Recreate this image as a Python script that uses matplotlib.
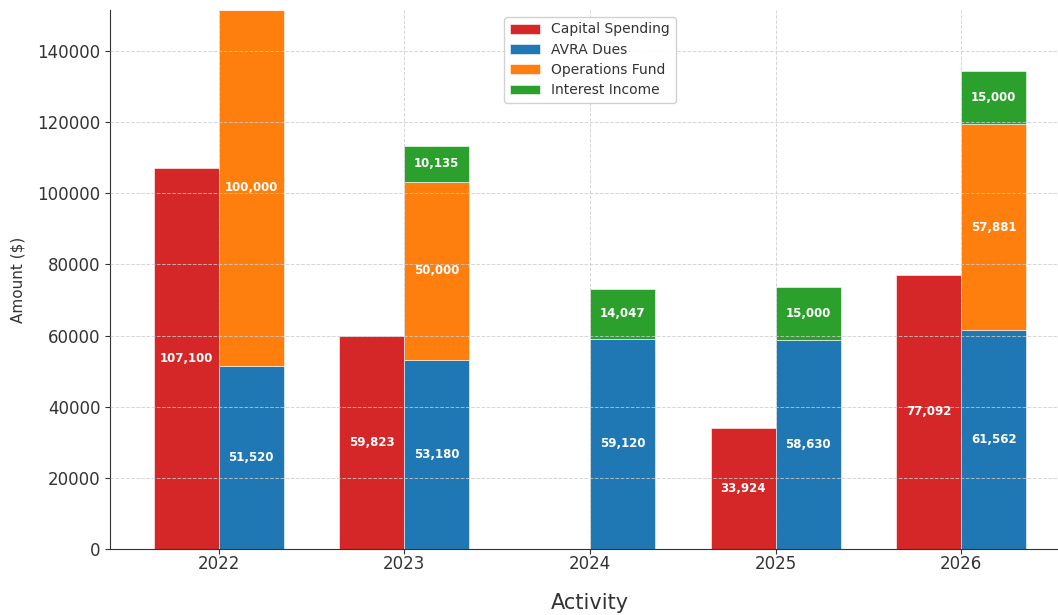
import matplotlib
matplotlib.use("Agg")
import matplotlib.pyplot as plt
import numpy as np

years = [2022, 2023, 2024, 2025, 2026]
capital_spending = [107100, 59823, 0, 33924, 77092]
avra_dues = [51520, 53180, 59120, 58630, 61562]
operations_fund = [100000, 50000, 0, 0, 57881]
interest_income = [0, 10135, 14047, 15000, 15000]

plt.rcParams['font.family'] = ['DejaVu Sans']
fig = plt.figure(figsize=(10.58, 6.15), dpi=100)
ax = fig.add_axes([110/1058, 1-549/615, (1070-110)/1058, (549-10)/615])

x = np.array(years, dtype=float)
w = 0.35
c_red, c_blue, c_orange, c_green = '#d62728', '#1f77b4', '#ff7f0e', '#2ca02c'

ax.bar(x - w/2, capital_spending, w, color=c_red, edgecolor='white', linewidth=0.4, label='Capital Spending')
ax.bar(x + w/2, avra_dues, w, color=c_blue, edgecolor='white', linewidth=0.4, label='AVRA Dues')
ax.bar(x + w/2, operations_fund, w, bottom=avra_dues, color=c_orange, edgecolor='white', linewidth=0.4, label='Operations Fund')
bottom2 = np.array(avra_dues) + np.array(operations_fund)
ax.bar(x + w/2, interest_income, w, bottom=bottom2, color=c_green, edgecolor='white', linewidth=0.4, label='Interest Income')

def label(xs, vals, bottoms):
    for xi, v, b in zip(xs, vals, bottoms):
        if v > 0:
            ax.text(xi, b + v/2, f"{v:,}", ha='center', va='center', color='white',
                    fontsize=8.5, fontweight='bold')

label(x - w/2, capital_spending, [0]*5)
label(x + w/2, avra_dues, [0]*5)
label(x + w/2, operations_fund, avra_dues)
label(x + w/2, interest_income, bottom2)

ax.set_xlim(2021.415, 2026.585)
ax.set_ylim(0, 151520)
ax.set_xticks(years)
ax.set_xticklabels([str(y) for y in years])
ax.set_yticks(range(0, 140001, 20000))
ax.tick_params(axis='both', labelsize=12, colors='#333333', labelcolor='#333333')
ax.tick_params(axis='x', pad=1)
ax.grid(True, linestyle='--', color='#cccccc', linewidth=0.7, alpha=0.8)
ax.set_axisbelow(False)
for s in ['top', 'right']:
    ax.spines[s].set_visible(False)
for s in ['left', 'bottom']:
    ax.spines[s].set_color('#333333')

ax.set_ylabel('Amount ($)', fontsize=11, color='#333333', labelpad=8)
ax.set_xlabel('Activity', fontsize=15, color='#333333', labelpad=14)
ax.legend(loc='upper center', fontsize=10, framealpha=0.9, labelcolor='#333333',
          labelspacing=0.45, handlelength=2.2)

fig.savefig('out.png', dpi=100)
